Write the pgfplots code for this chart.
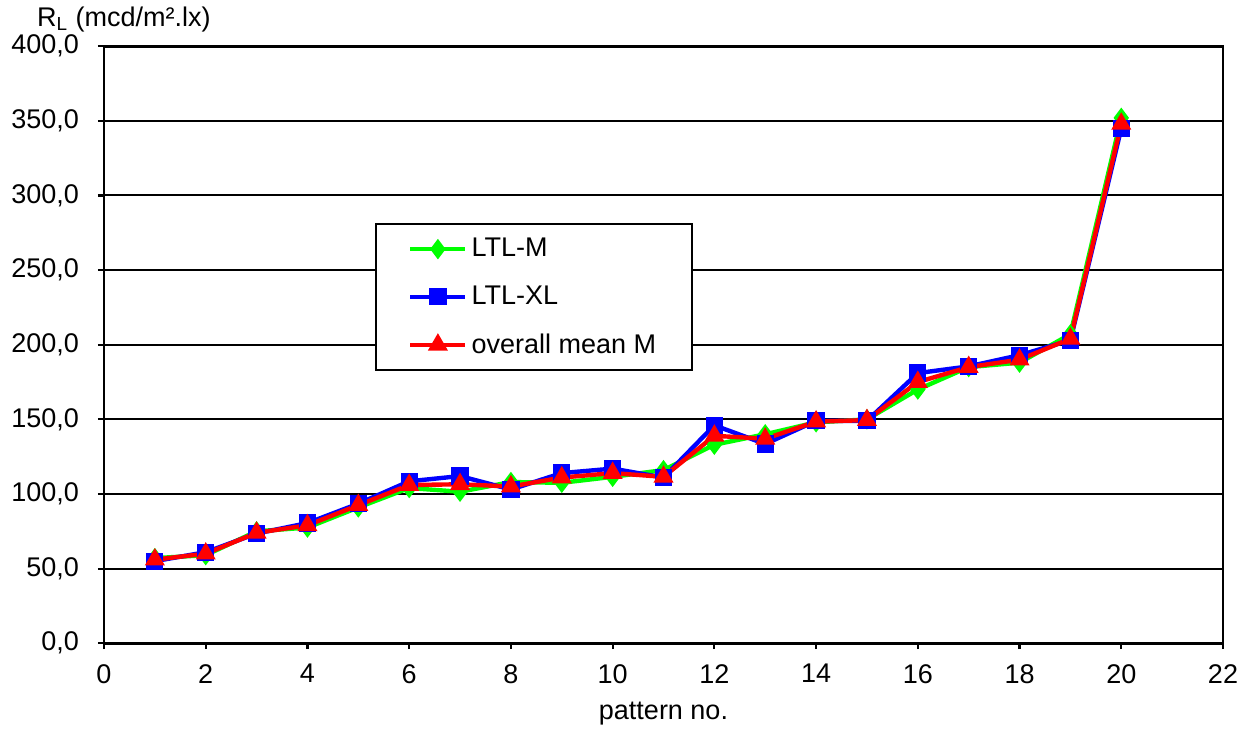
\documentclass[border=0pt]{standalone}
\usepackage{fontspec}
\setmainfont{Liberation Sans}
\usepackage{pgfplots}
\pgfplotsset{compat=1.18}

\definecolor{serM}{RGB}{0,255,0}
\definecolor{serXL}{RGB}{0,0,255}
\definecolor{serMean}{RGB}{255,0,0}

\begin{document}
\begin{tikzpicture}
\begin{axis}[
  scale only axis,
  width=559.5pt, height=298.5pt,
  xmin=0, xmax=22, ymin=0, ymax=400,
  xtick={0,2,...,22},
  ytick={0,50,...,400},
  axis line style={line width=1.3pt},
  tick style={line width=1.1pt, black},
  tick align=outside,
  major tick length=3pt,
  xtick pos=left, ytick pos=left,
  ymajorgrids,
  grid style={line width=1pt, black},
  font=\fontsize{13.5}{16}\selectfont,
  ticklabel style={font=\fontsize{13.5}{16}\selectfont},
  /pgf/number format/assume math mode=true,
  yticklabel style={xshift=-6pt, /pgf/number format/.cd, fixed, fixed zerofill, precision=1, use comma},
  xticklabel style={yshift=-4pt},
  xlabel={pattern no.},
  xlabel style={yshift=-2.5pt},
  legend style={
    at={(axis cs:5.33,281.4)}, anchor=north west,
    draw=black, line width=1.1pt,
    inner xsep=16pt, inner ysep=5pt,
    row sep=9pt,
    font=\fontsize{13.5}{16}\selectfont,
    cells={anchor=west},
  },
  legend image code/.code={
    \draw[mark repeat=2, mark phase=2] plot coordinates {(0pt,0pt) (13.75pt,0pt) (27.5pt,0pt)};
  },
]
  % LTL-M
  \addplot[serM, line width=2.2pt, mark=diamond*, mark size=3.3pt, mark options={solid, fill=serM}]
  coordinates {
    (1,57) (2,59) (3,75) (4,77.5) (5,91) (6,104) (7,101.5) (8,108) (9,107.5) (10,111.5)
    (11,116) (12,133) (13,140) (14,148) (15,150) (16,170) (17,185) (18,188) (19,207) (20,352)
  };
  \addlegendentry{LTL-M}
  % LTL-XL
  \addplot[serXL, line width=2.2pt, mark=square*, mark size=3.2pt, mark options={solid, fill=serXL}]
  coordinates {
    (1,55) (2,61) (3,73.5) (4,80.5) (5,93.5) (6,108.5) (7,112) (8,103) (9,114) (10,117)
    (11,111) (12,146) (13,133.5) (14,149) (15,149) (16,181) (17,185.5) (18,193) (19,203) (20,345)
  };
  \addlegendentry{LTL-XL}
  % overall mean M
  \addplot[serMean, line width=2.2pt, mark=triangle*, mark size=3.6pt, mark options={solid, fill=serMean}]
  coordinates {
    (1,56) (2,60) (3,74) (4,79) (5,92.5) (6,106) (7,106.5) (8,105) (9,111) (10,114)
    (11,111.5) (12,139) (13,137) (14,148.5) (15,149.5) (16,175) (17,185) (18,190) (19,204) (20,348)
  };
  \addlegendentry{overall mean M}
\end{axis}
\node[anchor=base west, font=\fontsize{13.5}{16}\selectfont]
  at ([xshift=-37pt, yshift=10pt]current axis.north west) {R\textsubscript{L} (mcd/m².lx)};
\path ([xshift=-52pt, yshift=-38.5pt]current axis.south west)
  rectangle ([xshift=14.5pt, yshift=23pt]current axis.north east);
\end{tikzpicture}
\end{document}
